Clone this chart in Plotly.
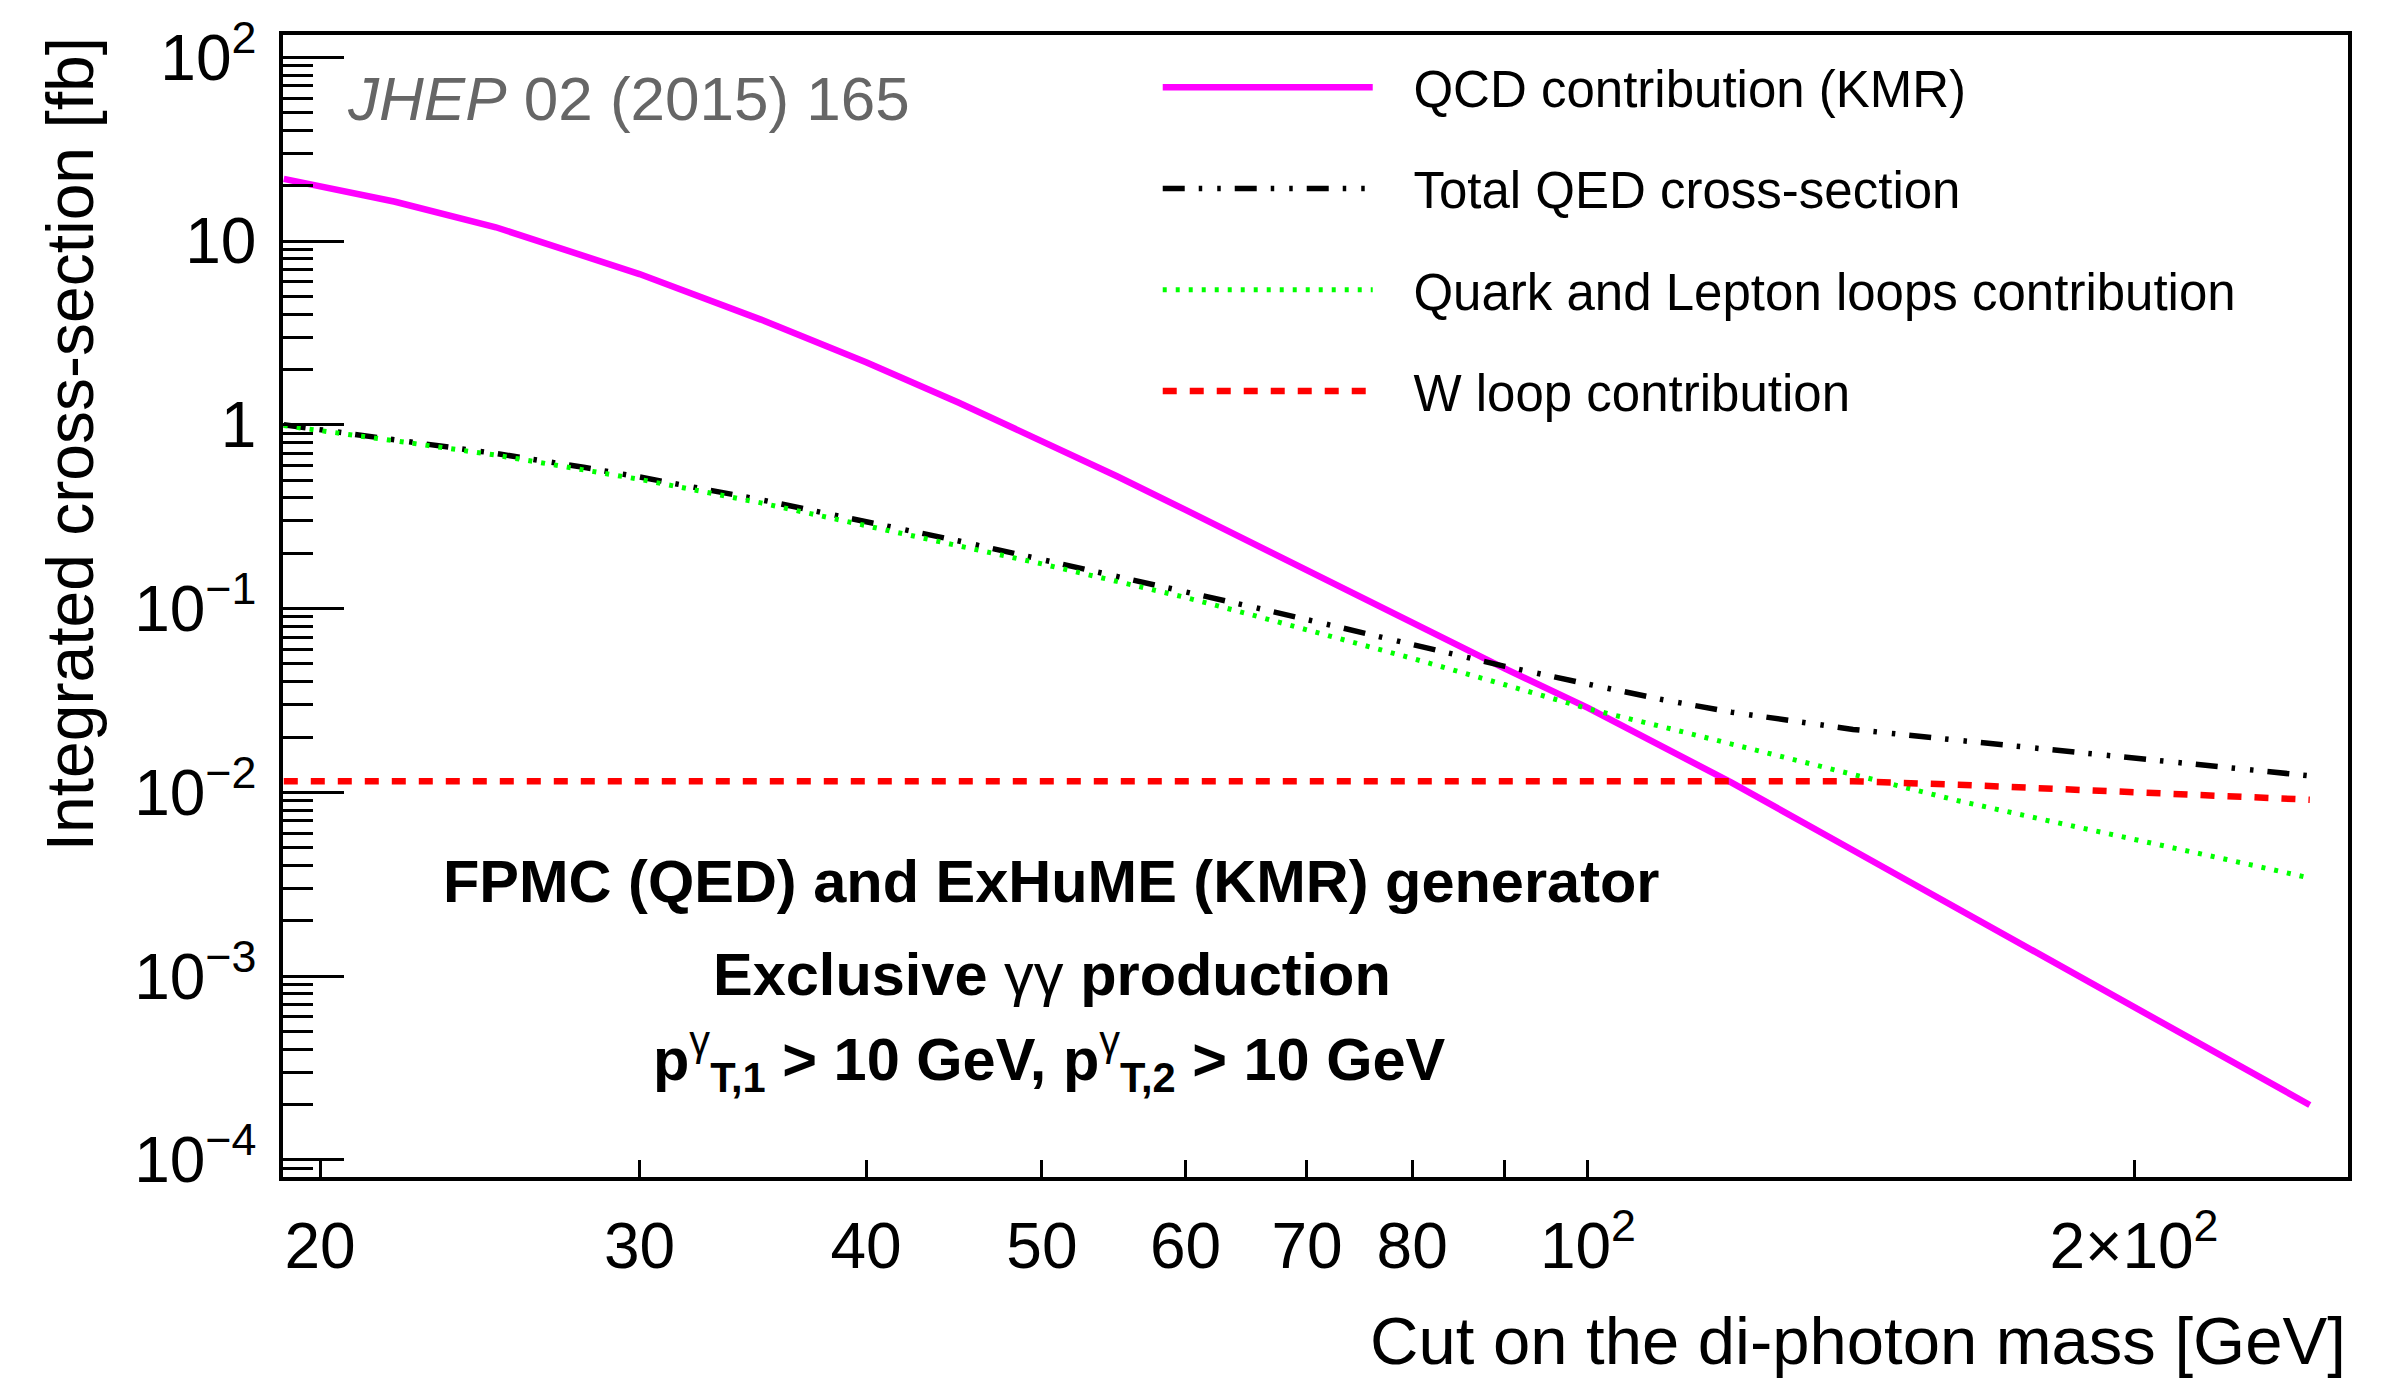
import plotly.graph_objects as go

# Lower cut on the di-photon invariant mass [GeV]
mass_cut = [19.1, 20, 22, 25, 28, 30, 35, 40, 45, 50, 55, 60, 65, 70, 80, 90,
            100, 110, 120, 140, 160, 180, 200, 225, 250]

# Integrated cross-sections [fb]
qcd_kmr = [21.8, 19.98, 16.35, 11.88, 8.36, 6.61, 3.736, 2.189, 1.319, 0.821,
           0.5246, 0.3442, 0.2315, 0.1604, 0.08395, 0.04714, 0.0288, 0.0178,
           0.0113, 0.00484, 0.00232, 0.00121, 0.000681, 0.000356, 0.000199]
qed_total = [1.0, 0.942, 0.830, 0.698, 0.585, 0.520, 0.391, 0.298, 0.233, 0.1847,
             0.1503, 0.1238, 0.1032, 0.0871, 0.0641, 0.0485, 0.0388, 0.0319,
             0.0273, 0.0220, 0.0192, 0.0171, 0.0154, 0.0137, 0.0123]
qed_fermion_loops = [0.99, 0.933, 0.818, 0.684, 0.570, 0.505, 0.376, 0.284, 0.221,
                     0.175, 0.1405, 0.115, 0.0934, 0.0769, 0.0536, 0.0385, 0.0285,
                     0.0227, 0.0183, 0.0124, 0.0090, 0.00696, 0.00558, 0.00431,
                     0.00342]
qed_w_loop = [0.0115, 0.0115, 0.0115, 0.0115, 0.0115, 0.0115, 0.0115, 0.0115,
              0.0115, 0.0115, 0.0115, 0.0115, 0.0115, 0.0115, 0.0115, 0.0115,
              0.0115, 0.0115, 0.0115, 0.0115, 0.0110, 0.0105, 0.0100, 0.00954,
              0.00912]

series_names = ["QCD contribution (KMR)", "Total QED cross-section",
                "Quark and Lepton loops contribution", "W loop contribution"]

x_tickvals = [20, 30, 40, 50, 60, 70, 80, 90, 100, 200]
x_ticktext = ["20", "30", "40", "50", "60", "70", "80", "", "10<sup>2</sup>",
              "2×10<sup>2</sup>"]
y_tickvals = [1e-4, 1e-3, 1e-2, 1e-1, 1, 10, 100]
y_ticktext = ["10<sup>−4</sup>", "10<sup>−3</sup>", "10<sup>−2</sup>",
              "10<sup>−1</sup>", "1", "10", "10<sup>2</sup>"]
y_minor = [m * 10.0 ** e for e in range(-5, 3) for m in range(2, 10)]

FONT = "Liberation Sans, Arial, Helvetica, sans-serif"
LEGEND_PAD = "\u2002\u2009"  # gap between the line sample and the entry text

styles = [
    dict(color="#ff00ff", width=6.5, dash="solid"),
    dict(color="#000000", width=5.5, dash="22px,14px,3.5px,15px,3.5px,14px"),
    dict(color="#00ff00", width=5, dash="4px,9px"),
    dict(color="#ff0000", width=6.5, dash="14px,13px"),
]

fig = go.Figure()
for i, (name, ys) in enumerate(zip(series_names,
                                   [qcd_kmr, qed_total, qed_fermion_loops, qed_w_loop])):
    fig.add_trace(go.Scatter(
        x=mass_cut, y=ys, mode="lines", name=LEGEND_PAD + name, line=styles[i],
        legendgroup=f"g{i}",
    ))

x_range = [1.2806, 2.4190]
y_range = [-4.093, 2.121]

fig.update_layout(
    width=2381, height=1380,
    margin=dict(l=283, r=33, t=23, b=203),
    paper_bgcolor="white", plot_bgcolor="white",
    font=dict(family=FONT, color="black", size=50),
    showlegend=True,
    legend=dict(
        x=0.4236, y=0.989, xanchor="left", yanchor="top",
        bgcolor="rgba(0,0,0,0)", borderwidth=0,
        font=dict(family=FONT, size=51, color="black"),
        itemwidth=210, tracegroupgap=32, traceorder="grouped",
    ),
    xaxis=dict(
        type="log", range=x_range, showgrid=False, zeroline=False,
        showline=True, linecolor="black", linewidth=3.5, mirror=True,
        ticks="inside", ticklen=17, tickwidth=2.5, tickcolor="black",
        tickmode="array", tickvals=x_tickvals, ticktext=x_ticktext,
        tickfont=dict(family=FONT, size=64, color="black"),
        ticklabelstandoff=10, ticklabeloverflow="allow",
    ),
    xaxis2=dict(
        type="log", range=x_range, overlaying="x", anchor="y", side="bottom",
        showgrid=False, zeroline=False, showline=False,
        ticks="inside", ticklen=35, tickwidth=2.5, tickcolor="black",
        tickmode="array", tickvals=[100], showticklabels=False,
    ),
    yaxis=dict(
        type="log", range=y_range, showgrid=False, zeroline=False,
        showline=True, linecolor="black", linewidth=3.5, mirror=True,
        ticks="inside", ticklen=61, tickwidth=2.5, tickcolor="black",
        tickmode="array", tickvals=y_tickvals, ticktext=y_ticktext,
        tickfont=dict(family=FONT, size=64, color="black"),
        ticklabelstandoff=10, ticklabeloverflow="allow",
        minor=dict(ticks="inside", ticklen=30, tickwidth=2.5, tickcolor="black",
                   tickmode="array", tickvals=y_minor, showgrid=False),
    ),
)

GAMMA = "<span style='font-weight:normal'>γ</span>"
annotations = [
    dict(text="Cut on the di-photon mass [GeV]", x=1.0, y=-0.143,
         xanchor="right", yanchor="middle", font=dict(size=67)),
    dict(text="Integrated cross-section [fb]", x=-0.103, y=1.0, textangle=-90,
         xanchor="center", yanchor="top", font=dict(size=66)),
    dict(text="<i>JHEP</i> 02 (2015) 165", x=0.030, y=0.944,
         xanchor="left", yanchor="middle", font=dict(size=62, color="#666666")),
    dict(text="<b>FPMC (QED) and ExHuME (KMR) generator</b>", x=0.3717, y=0.259,
         xanchor="center", yanchor="middle", font=dict(size=59.5)),
    dict(text="<b>Exclusive</b> <span style='font-weight:normal'>γγ</span> <b>production</b>",
         x=0.3722, y=0.1776, xanchor="center", yanchor="middle", font=dict(size=59.5)),
    dict(text=f"<b>p<sup>{GAMMA}</sup><sub>T,1</sub> > 10 GeV, "
              f"p<sup>{GAMMA}</sup><sub>T,2</sub> > 10 GeV</b>",
         x=0.3713, y=0.1031, xanchor="center", yanchor="middle", font=dict(size=59.5)),
]
for a in annotations:
    a.update(xref="paper", yref="paper", showarrow=False)
    a["font"] = dict(family=FONT, color=a["font"].get("color", "black"),
                     size=a["font"]["size"])
    fig.add_annotation(**a)

fig.write_html("out.html")
